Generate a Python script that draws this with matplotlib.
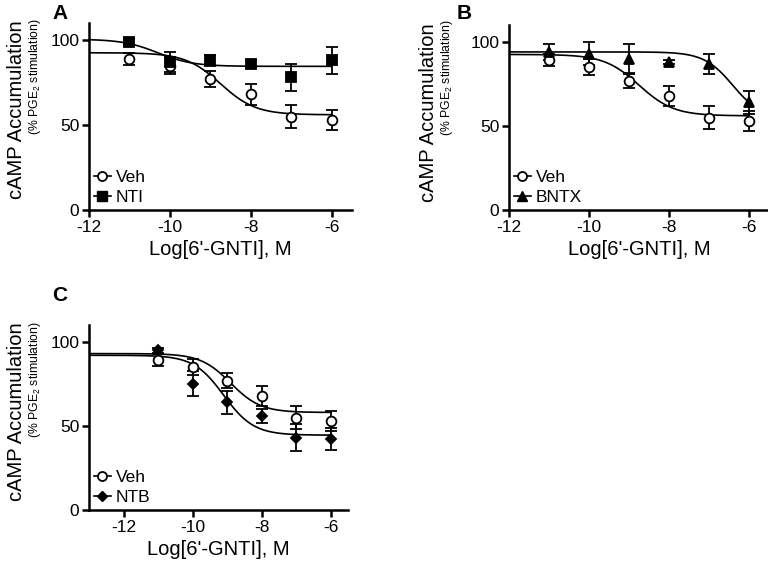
import numpy as np
import matplotlib
matplotlib.use("Agg")
import matplotlib.pyplot as plt
from matplotlib.ticker import MultipleLocator
from matplotlib.lines import Line2D

plt.rcParams['font.family'] = ['Liberation Sans', 'DejaVu Sans']
plt.rcParams['mathtext.fontset'] = 'custom'
plt.rcParams['mathtext.rm'] = 'Liberation Sans'
plt.rcParams['axes.unicode_minus'] = False

# log concentrations of 6'-GNTI
logc = [-11, -10, -9, -8, -7, -6]

veh = [89, 85, 77, 68, 55, 53]
veh_err = [3.5, 5, 4.5, 6, 7, 6]

nti = [99, 87, 88, 86, 78, 88]
nti_err = [1.5, 6, 3, 2, 8, 8]

bntx = [94, 93, 90, 88, 87, 64]
bntx_err = [5, 7, 9, 1, 6, 7]

ntb = [95, 75, 64, 56, 43, 42]
ntb_err = [1.5, 7.5, 7, 4, 8, 6.5]

# fitted sigmoid parameters: top, bottom, logEC50, hill
fit_veh = (92.5, 56, -8.75, 1.0)
fit_nti = (100.5, 84.5, -10.3, 1.0)
fit_bntx = (94, 54, -6.4, 1.2)
fit_veh_c = (93, 58, -8.9, 1.0)
fit_ntb = (92, 44.5, -9.1, 1.0)


def sigmoid(x, p):
    top, bot, ec, h = p
    return bot + (top - bot) / (1 + 10 ** ((x - ec) * h))


W, H = 768, 564
fig = plt.figure(figsize=(W / 100, H / 100), dpi=100)


def make_ax(l, r, b, t):
    ax = fig.add_axes([l / W, 1 - b / H, (r - l) / W, (b - t) / H])
    for s in ['top', 'right']:
        ax.spines[s].set_visible(False)
    for s in ['left', 'bottom']:
        ax.spines[s].set_linewidth(1.8)
    ax.tick_params(width=1.8, length=5, labelsize=12.5, pad=2)
    ax.set_ylim(0, 110)
    ax.set_yticks([0, 50, 100])
    ax.xaxis.set_major_locator(MultipleLocator(2))
    ax.set_xlabel("Log[6'-GNTI], M", fontsize=14.5, labelpad=4)
    return ax


def plot_series(ax, y, err, marker, fc, fit, x0, ms=7):
    ax.errorbar(logc, y, yerr=err, fmt=marker, ms=ms, mfc=fc, mec='black',
                mew=1.3, ecolor='black', elinewidth=1.3, capsize=4, capthick=1.3,
                zorder=3)
    xs = np.linspace(x0, -6, 300)
    ax.plot(xs, sigmoid(xs, fit), color='black', lw=1.2, zorder=2)


def ylabels(xm, xs, ym, ys):
    fig.text(xm / W, 1 - ym / H, "cAMP Accumulation", rotation=90,
             fontsize=14.5, ha='center', va='center')
    fig.text(xs / W, 1 - ys / H, "(% PGE$_2$ stimulation)", rotation=90,
             fontsize=8.8, ha='center', va='center')


def legend(ax, marker, label, ms=6.5):
    h = [Line2D([], [], color='black', lw=1.2, marker='o', ms=6.5, mfc='white',
                mec='black', mew=1.3),
         Line2D([], [], color='black', lw=1.2, marker=marker, ms=ms, mfc='black',
                mec='black', mew=1.0)]
    ax.legend(h, ['Veh', label], loc='lower left', frameon=False, fontsize=12.5,
              handlelength=0.95, handletextpad=0.3, borderaxespad=0.0,
              borderpad=0.3, labelspacing=0.25)


# panel A
axA = make_ax(89, 352, 210, 23)
axA.set_xlim(-12, -5.5)
plot_series(axA, veh, veh_err, 'o', 'white', fit_veh, -12)
plot_series(axA, nti, nti_err, 's', 'black', fit_nti, -12)
legend(axA, 's', 'NTI')
ylabels(17, 35, 110, 77)
fig.text(52 / W, 1 - 4 / H, "A", fontsize=15, fontweight='bold', va='top')

# panel B
axB = make_ax(509, 769, 210, 25)
axB.set_xlim(-12, -5.5)
plot_series(axB, veh, veh_err, 'o', 'white', fit_veh, -12)
plot_series(axB, bntx, bntx_err, '^', 'black', fit_bntx, -12)
legend(axB, '^', 'BNTX')
ylabels(429, 447, 113, 78)
fig.text(457 / W, 1 - 4 / H, "B", fontsize=15, fontweight='bold', va='top')

# panel C
axC = make_ax(89, 348, 510, 325)
axC.set_xlim(-13, -5.5)
plot_series(axC, veh, veh_err, 'o', 'white', fit_veh_c, -13)
plot_series(axC, ntb, ntb_err, 'D', 'black', fit_ntb, -13, ms=5.5)
legend(axC, 'D', 'NTB', ms=5)
ylabels(17, 35, 412, 380)
fig.text(52 / W, 1 - 286 / H, "C", fontsize=15, fontweight='bold', va='top')

fig.savefig("out.png", dpi=100)
